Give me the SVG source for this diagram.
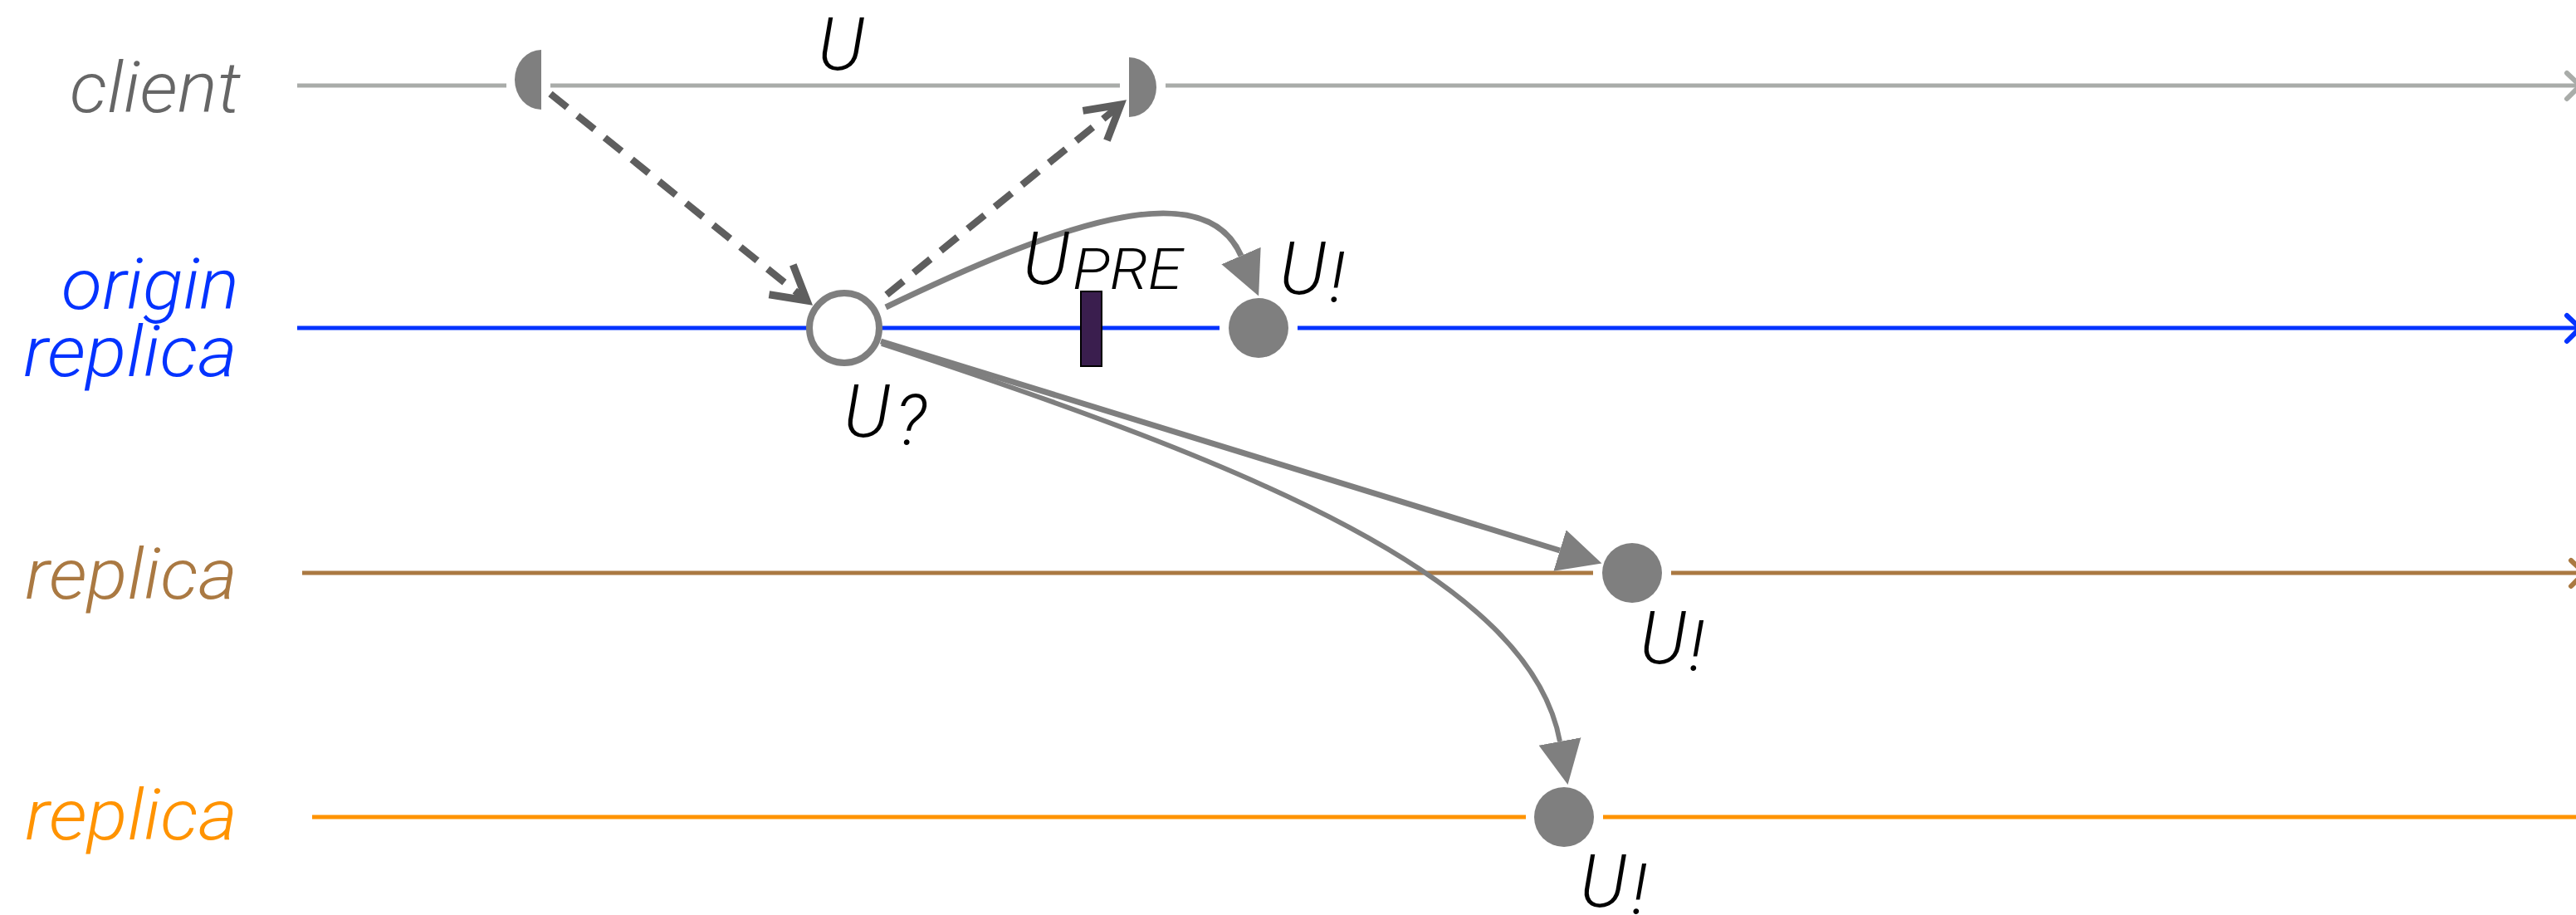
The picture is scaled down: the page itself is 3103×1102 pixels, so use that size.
<svg xmlns="http://www.w3.org/2000/svg" width="3103" height="1102" viewBox="0 0 3103 1102">
  <style>
    .lbl { font-family: Roboto, "Liberation Sans", sans-serif; font-style: italic; font-weight: 300; font-size: 85px; }
    .u { font-family: Roboto, "Liberation Sans", sans-serif; font-style: italic; font-weight: 300; font-size: 88px; fill: #000; }
    .sub { font-size: 86px; }
    .lane { stroke-width: 5; fill: none; }
    .solid { stroke: #7f7f7f; fill: none; }
    .dash { stroke: #5e5e5e; stroke-width: 8.5; stroke-dasharray: 26 16; fill: none; }
    .ev { fill: #7f7f7f; }
  </style>
  <defs>
    <marker id="head" markerUnits="userSpaceOnUse" markerWidth="60" markerHeight="60" viewBox="0 -25 50 50" refX="0" refY="0" orient="auto">
      <path d="M0,-21.5 L44,0 L0,21.5 Z" fill="#7f7f7f"/>
    </marker>
    <marker id="vee" markerUnits="userSpaceOnUse" markerWidth="70" markerHeight="70" viewBox="-50 -35 60 70" refX="0" refY="0" orient="auto">
      <path d="M-40,-23 L0,0 L-40,23" fill="none" stroke="#5e5e5e" stroke-width="9" stroke-linejoin="miter"/>
    </marker>
  </defs>
  <rect width="3103" height="1102" fill="#fff"/>

  <!-- timelines -->
  <g id="lane-client">
    <text class="lbl" x="290" y="135" text-anchor="end" fill="#666" textLength="206" lengthAdjust="spacingAndGlyphs">client</text>
    <path class="lane" stroke="#a9aca9" d="M358,103 H610 M663,103 H1349 M1404,103 H3103"/>
    <path d="M3092,88 L3108,103 L3092,119" fill="none" stroke="#a9aca9" stroke-width="6" stroke-linecap="round" stroke-linejoin="round"/>
  </g>
  <g id="lane-origin">
    <text class="lbl" x="288" y="372" text-anchor="end" fill="#0433ff" textLength="214" lengthAdjust="spacingAndGlyphs">origin</text>
    <text class="lbl" x="286" y="453" text-anchor="end" fill="#0433ff" textLength="258" lengthAdjust="spacingAndGlyphs">replica</text>
    <path class="lane" stroke="#0433ff" d="M358,395 H1469 M1563,395 H3103"/>
    <path d="M3092,380 L3108,395 L3092,411" fill="none" stroke="#0433ff" stroke-width="6" stroke-linecap="round" stroke-linejoin="round"/>
  </g>
  <g id="lane-replica-1">
    <text class="lbl" x="286" y="721" text-anchor="end" fill="#aa7942" textLength="256" lengthAdjust="spacingAndGlyphs">replica</text>
    <path class="lane" stroke="#aa7942" d="M364,690 H1919 M2013,690 H3103"/>
    <path d="M3097,675 L3113,690 L3097,706" fill="none" stroke="#aa7942" stroke-width="6" stroke-linecap="round" stroke-linejoin="round"/>
  </g>
  <g id="lane-replica-2">
    <text class="lbl" x="286" y="1011" text-anchor="end" fill="#ff9300" textLength="256" lengthAdjust="spacingAndGlyphs">replica</text>
    <path class="lane" stroke="#ff9300" d="M376,984 H1838 M1931,984 H3103"/>
  </g>

  <!-- connectors -->
  <g id="connectors">
    <path class="dash" d="M663,113 L972,362" marker-end="url(#vee)"/>
    <path class="dash" d="M1068,355 L1350,126" marker-end="url(#vee)"/>
    <path class="solid" stroke-width="7" d="M1067,370 C1267,274 1450,205 1495,308" marker-end="url(#head)"/>
    <path class="solid" stroke-width="7" d="M1061,411 L1879,663" marker-end="url(#head)"/>
    <path class="solid" stroke-width="6" d="M1062,414 C1511,561 1843,697 1879,893" marker-end="url(#head)"/>
  </g>

  <!-- events -->
  <g id="send">
    <path class="ev" d="M652,60 A32,36 0 0 0 652,132 Z"/>
  </g>
  <g id="reply">
    <path class="ev" d="M1360,69 A33,36 0 0 1 1360,141 Z"/>
    <text class="u" x="985" y="84">U</text>
  </g>
  <g id="proposed">
    <circle cx="1017" cy="395" r="42" fill="#fff" stroke="#7f7f7f" stroke-width="8"/>
    <text class="u" x="1016" y="526">U<tspan class="sub" x="1078" y="536">?</tspan></text>
  </g>
  <g id="pre">
    <rect x="1302" y="351" width="25" height="90" fill="#3a1e4e" stroke="#000" stroke-width="2"/>
    <text class="u" x="1232" y="342">U<tspan x="1292" y="348" font-size="69" textLength="132" lengthAdjust="spacingAndGlyphs">PRE</tspan></text>
  </g>
  <g id="commit-origin">
    <circle class="ev" cx="1516" cy="395" r="36"/>
    <text class="u" x="1541" y="354">U<tspan class="sub" x="1601" y="364">!</tspan></text>
  </g>
  <g id="commit-replica-1">
    <circle class="ev" cx="1966" cy="690" r="36"/>
    <text class="u" x="1975" y="799">U<tspan class="sub" x="2034" y="808">!</tspan></text>
  </g>
  <g id="commit-replica-2">
    <circle class="ev" cx="1884" cy="984" r="36"/>
    <text class="u" x="1903" y="1092">U<tspan class="sub" x="1965" y="1101">!</tspan></text>
  </g>
</svg>
